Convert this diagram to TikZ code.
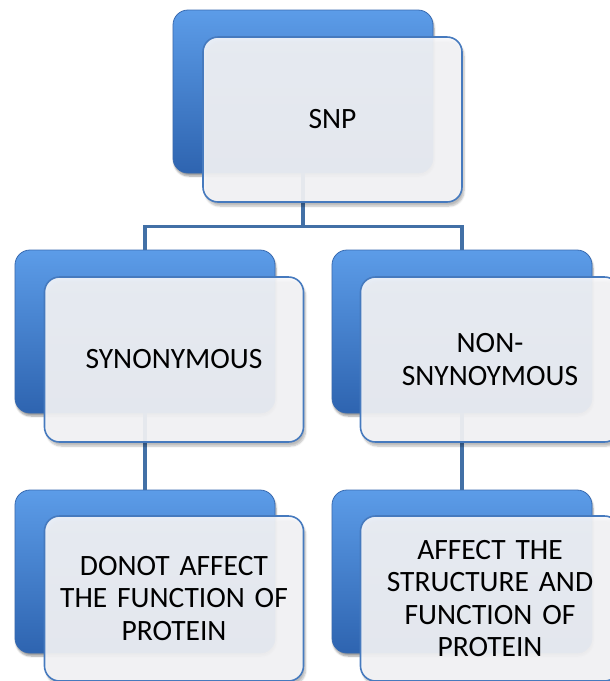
\documentclass[tikz,border=0pt]{standalone}
\usepackage{fontspec}
\setmainfont{Carlito}[WordSpace=0.8]
\usetikzlibrary{shadows.blur}
\definecolor{connc}{RGB}{66,112,166}
\definecolor{bluetop}{RGB}{92,156,232}
\definecolor{bluemid}{RGB}{64,126,206}
\definecolor{bluebot}{RGB}{46,100,176}
\definecolor{blueedge}{RGB}{56,106,176}
\definecolor{cardfill}{RGB}{247,247,249}
\definecolor{cardedge}{RGB}{70,122,190}
\tikzset{
  backbox/.style={rounded corners=15pt, minimum width=260pt, minimum height=163pt,
    inner sep=0pt, draw=blueedge, line width=0.8pt,
    top color=bluetop, middle color=bluemid, bottom color=bluebot,
    blur shadow={shadow xshift=1pt, shadow yshift=-3pt, shadow opacity=40, shadow blur steps=6}},
  card/.style={rounded corners=15pt, minimum width=259pt, minimum height=165pt,
    inner sep=0pt, draw=cardedge, line width=1.6pt, fill=cardfill,
    fill opacity=0.91, draw opacity=1, text opacity=1, text width=250pt, align=center,
    font=\fontsize{29.5}{32.5}\selectfont,
    blur shadow={shadow xshift=2pt, shadow yshift=-4pt, shadow opacity=30, shadow blur steps=6}},
  connector/.style={draw=connc, line width=3.2pt}
}
\begin{document}
\begin{tikzpicture}[x=1pt,y=-1pt]
\useasboundingbox (0,0) rectangle (610,681);
\clip (0,0) rectangle (610,681);
% back boxes
\node[backbox] (snpb) at (303,91.5) {};
\node[backbox] (synb) at (145,331.5) {};
\node[backbox] (nonb) at (462,331.5) {};
\node[backbox] (donb) at (145,571.5) {};
\node[backbox] (affb) at (462,571.5) {};
% connectors
\draw[connector] (snpb.south) -- ++(0,53) coordinate (j);
\draw[connector] (synb.north) |- (j) -| (nonb.north);
\draw[connector] (synb.south) -- (donb.north);
\draw[connector] (nonb.south) -- (affb.north);
% cards
\node[card] (snp) at (332.5,119.5) {SNP};
\node[card] (syn) at (174,359.5) {SYNONYMOUS};
\node[card] (non) at (490,359.5) {NON-\\SNYNOYMOUS};
\node[card] (don) at (174,598.5) {DONOT AFFECT\\THE FUNCTION OF\\PROTEIN};
\node[card] (aff) at (490,598.5) {AFFECT THE\\STRUCTURE AND\\FUNCTION OF\\PROTEIN};
\end{tikzpicture}
\end{document}
